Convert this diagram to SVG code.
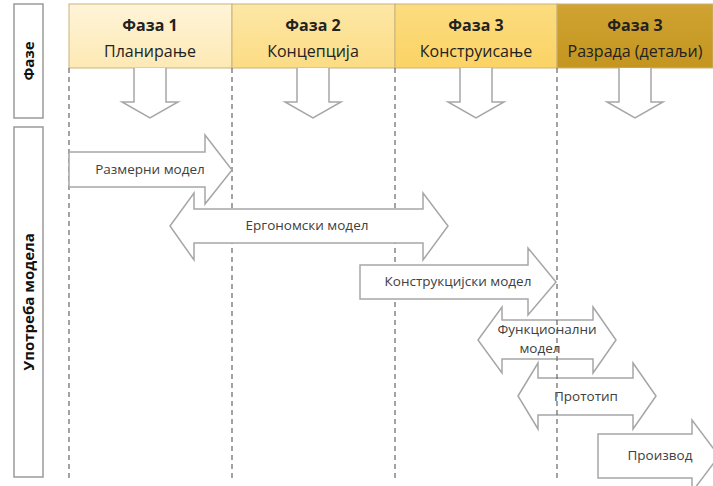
<svg xmlns="http://www.w3.org/2000/svg" width="713" height="486" viewBox="0 0 713 486">
<defs>
<linearGradient id="g1" x1="0" y1="0" x2="0" y2="1"><stop offset="0" stop-color="#fef4d8"/><stop offset="1" stop-color="#fde9b4"/></linearGradient>
<linearGradient id="g2" x1="0" y1="0" x2="0" y2="1"><stop offset="0" stop-color="#fde7a6"/><stop offset="1" stop-color="#fcdc84"/></linearGradient>
<linearGradient id="g3" x1="0" y1="0" x2="0" y2="1"><stop offset="0" stop-color="#fcdc80"/><stop offset="1" stop-color="#fbd364"/></linearGradient>
<linearGradient id="g4" x1="0" y1="0" x2="0" y2="1"><stop offset="0" stop-color="#d0a332"/><stop offset="1" stop-color="#c4951f"/></linearGradient>
</defs>
<style>
.box{fill:#fff;stroke:#9a9a9a;stroke-width:1.5}
.hdr{stroke:#c9b37a;stroke-width:1}
.grid{stroke:#666;stroke-width:1.2;stroke-dasharray:5 4;fill:none}
.arr{fill:#fff;stroke:#a6a6a6;stroke-width:1.5;stroke-linejoin:miter}
.side{font-family:"Open Sans","Liberation Sans",sans-serif;font-weight:bold;font-size:15px;fill:#111;text-anchor:middle}
.ph{font-family:"Open Sans","Liberation Sans",sans-serif;font-size:16px;fill:#222;text-anchor:middle}
.phb{font-weight:bold}
.lbl{font-family:"Open Sans","Liberation Sans",sans-serif;font-size:13.5px;fill:#404040;text-anchor:middle}
</style>
<rect width="713" height="486" fill="#fff"/>

<g id="side-faze">
<rect class="box" x="14" y="4" width="29" height="114"/>
<text class="side" transform="translate(34,61) rotate(-90)">Фазе</text>
</g>
<g id="side-upotreba">
<rect class="box" x="14" y="127" width="29" height="350"/>
<text class="side" transform="translate(34,302) rotate(-90)">Употреба модела</text>
</g>

<g id="phase1">
<rect class="hdr" x="69" y="4" width="163" height="64" fill="url(#g1)"/>
<text class="ph phb" x="150" y="31">Фаза 1</text>
<text class="ph" x="150" y="57">Планирање</text>
</g>
<g id="phase2">
<rect class="hdr" x="232" y="4" width="163" height="64" fill="url(#g2)"/>
<text class="ph phb" x="313" y="31">Фаза 2</text>
<text class="ph" x="313" y="57">Концепција</text>
</g>
<g id="phase3">
<rect class="hdr" x="395" y="4" width="162" height="64" fill="url(#g3)"/>
<text class="ph phb" x="476" y="31">Фаза 3</text>
<text class="ph" x="476" y="57">Конструисање</text>
</g>
<g id="phase4">
<rect class="hdr" x="557" y="4" width="156" height="64" fill="url(#g4)"/>
<text class="ph phb" x="635" y="31">Фаза 3</text>
<text class="ph" x="635" y="57" fill="#2a1e00">Разрада (детаљи)</text>
</g>

<g id="connectors">
<line class="grid" x1="69" y1="68" x2="69" y2="479"/>
<line class="grid" x1="232" y1="68" x2="232" y2="479"/>
<line class="grid" x1="395" y1="68" x2="395" y2="479"/>
<path class="arr" d="M134,68 V102 H122 L150,118 L178,102 H166 V68"/>
<path class="arr" d="M297,68 V102 H285 L313,118 L341,102 H329 V68"/>
<path class="arr" d="M460,68 V102 H448 L476,118 L504,102 H492 V68"/>
<path class="arr" d="M619,68 V102 H607 L635,118 L663,102 H651 V68"/>
</g>

<g id="razmerni">
<path class="arr" d="M69,152 H205 V135 L232,170 L205,204 V187 H69 Z"/>
<text class="lbl" x="150" y="174">Размерни модел</text>
</g>
<g id="ergonomski">
<path class="arr" d="M170,226 L194,193 V209 H423 V193 L448,226 L423,260 V243 H194 V260 Z"/>
<text class="lbl" x="307" y="230">Ергономски модел</text>
</g>
<g id="konstrukcijski">
<path class="arr" d="M360,265 H528 V248 L556,282 L528,315 V299 H360 Z"/>
<text class="lbl" x="458" y="286">Конструкцијски модел</text>
</g>
<g id="funkcionalni">
<path class="arr" d="M478,340 L502,307 V320 H593 V307 L616,340 L593,373 V359 H502 V373 Z"/>
<text class="lbl" x="547" y="334">Функционални</text>
<text class="lbl" x="540" y="353">модел</text>
</g>
<g id="prototip">
<path class="arr" d="M518,396 L538,363 V378 H633 V363 L656,396 L633,429 V415 H538 V429 Z"/>
<text class="lbl" x="586" y="401">Прототип</text>
</g>
<g id="proizvod">
<path class="arr" d="M598,434 H692 V420 L719,456 L692,492 V478 H598 Z"/>
<text class="lbl" x="660" y="460">Производ</text>
</g>

<g id="grid-front">
<line class="grid" x1="557" y1="68" x2="557" y2="479"/>
</g>
</svg>
